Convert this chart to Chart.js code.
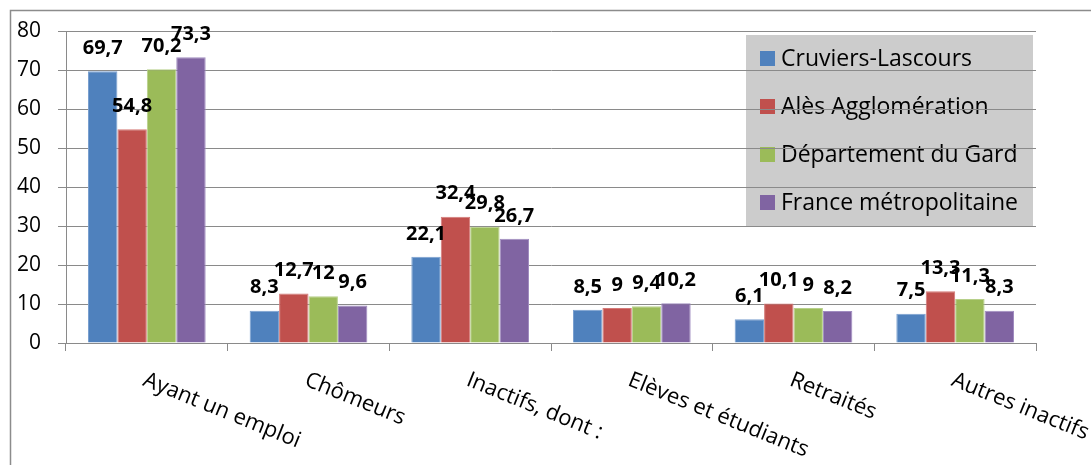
<!DOCTYPE html>
<html>
<head>
<meta charset="utf-8">
<script src="https://cdn.jsdelivr.net/npm/chart.js@4.4.1/dist/chart.umd.min.js"></script>
<style>
    html, body { margin: 0; padding: 0; background: #fff; }
    canvas { display: block; }
</style>
</head>
<body>
<canvas id="chart1" width="1091" height="465"></canvas>
<script>

const categories = ['Ayant un emploi', 'Chômeurs', 'Inactifs, dont :', 'Elèves et étudiants', 'Retraités', 'Autres inactifs']
const seriesNames = ['Cruviers-Lascours', 'Alès Agglomération', 'Département du Gard', 'France métropolitaine']
const cruviers = [69.7, 8.3, 22.1, 8.5, 6.1, 7.5]
const ales = [54.8, 12.7, 32.4, 9, 10.1, 13.3]
const gard = [70.2, 12, 29.8, 9.4, 9, 11.3]
const france = [73.3, 9.6, 26.7, 10.2, 8.2, 8.3]
const yTicks = [0, 10, 20, 30, 40, 50, 60, 70, 80]

const colors = ['#4f81bd', '#c0504d', '#9bbb59', '#8064a2']
const edges = ['#7aa0d0', '#d47a78', '#b7d08a', '#a08cc0']
const FONT = '"Open Sans", sans-serif'


// white page, outer frame and the grey legend box (drawn before the grid so lines cross it)
const backdrop = {
    id: 'backdrop',
    beforeDraw(chart) {
        const ctx = chart.ctx
        ctx.save()
        ctx.fillStyle = '#fff'
        ctx.fillRect(0, 0, chart.width, chart.height)

        ctx.strokeStyle = '#8c8c8c'
        ctx.lineWidth = 1.5
        ctx.beginPath()
        ctx.moveTo(10.5, chart.height)
        ctx.lineTo(10.5, 10.5)
        ctx.lineTo(chart.width, 10.5)
        ctx.stroke()

        ctx.fillStyle = '#cccccc'
        ctx.fillRect(746, 35, 287, 192)

        ctx.font = '23px ' + FONT
        ctx.textBaseline = 'middle'
        chart.data.datasets.forEach((ds, i) => {
            const y = 58 + i * 48
            ctx.fillStyle = ds.backgroundColor
            ctx.fillRect(760, y - 7, 15, 15)
            ctx.fillStyle = '#000'
            ctx.fillText(ds.label, 781, y + 1)
        })
        ctx.restore()
    }
}


// bold values above each bar, French decimal comma
const valueLabels = {
    id: 'valueLabels',
    afterDatasetsDraw(chart) {
        const ctx = chart.ctx
        ctx.save()
        ctx.font = 'bold 20px ' + FONT
        ctx.fillStyle = '#000'
        ctx.textAlign = 'center'
        ctx.textBaseline = 'middle'
        chart.data.datasets.forEach((ds, i) => {
            chart.getDatasetMeta(i).data.forEach((bar, j) => {
                const txt = String(ds.data[j]).replace('.', ',')
                ctx.fillText(txt, bar.x, bar.y - 23)
            })
        })
        ctx.restore()
    }
}


// slanted category names under the axis
const slantedLabels = {
    id: 'slantedLabels',
    afterDraw(chart) {
        const ctx = chart.ctx
        const x = chart.scales.x
        ctx.save()
        ctx.font = '22px ' + FONT
        ctx.fillStyle = '#000'
        ctx.textAlign = 'left'
        ctx.textBaseline = 'alphabetic'
        chart.data.labels.forEach((label, i) => {
            ctx.save()
            ctx.translate(x.getPixelForValue(i) - 5, x.bottom + 42)
            ctx.rotate(22 * Math.PI / 180)
            ctx.fillText(label, 0, 0)
            ctx.restore()
        })
        ctx.restore()
    }
}


const data = {
    labels: categories,
    datasets: [cruviers, ales, gard, france].map((values, i) => ({
        label: seriesNames[i],
        data: values,
        backgroundColor: colors[i],
        borderColor: edges[i],
        borderWidth: 1,
        categoryPercentage: 0.728,
        barPercentage: 1
    }))
}

const options = {
    responsive: false,
    animation: false,
    layout: {
        padding: { left: 10, top: 31, right: 55, bottom: 122 }
    },
    plugins: {
        legend: { display: false },
        tooltip: { enabled: false }
    },
    scales: {
        x: {
            afterFit: scale => { scale.height = 0 },
            ticks: { display: false },
            grid: {
                drawOnChartArea: false,
                drawTicks: true,
                tickLength: 8,
                color: '#8a8a8a'
            },
            border: { display: true, color: '#8a8a8a' }
        },
        y: {
            min: 0,
            max: 80,
            afterFit: scale => { scale.width = 56 },
            afterBuildTicks: scale => { scale.ticks = yTicks.map(v => ({ value: v })) },
            ticks: {
                padding: 17,
                color: '#000',
                font: { family: FONT, size: 21 }
            },
            grid: {
                color: '#8a8a8a',
                tickLength: 8
            },
            border: { display: true, color: '#8a8a8a' }
        }
    }
}

new Chart('chart1', { type: 'bar', data, options, plugins: [backdrop, valueLabels, slantedLabels] })
</script>
</body>
</html>
